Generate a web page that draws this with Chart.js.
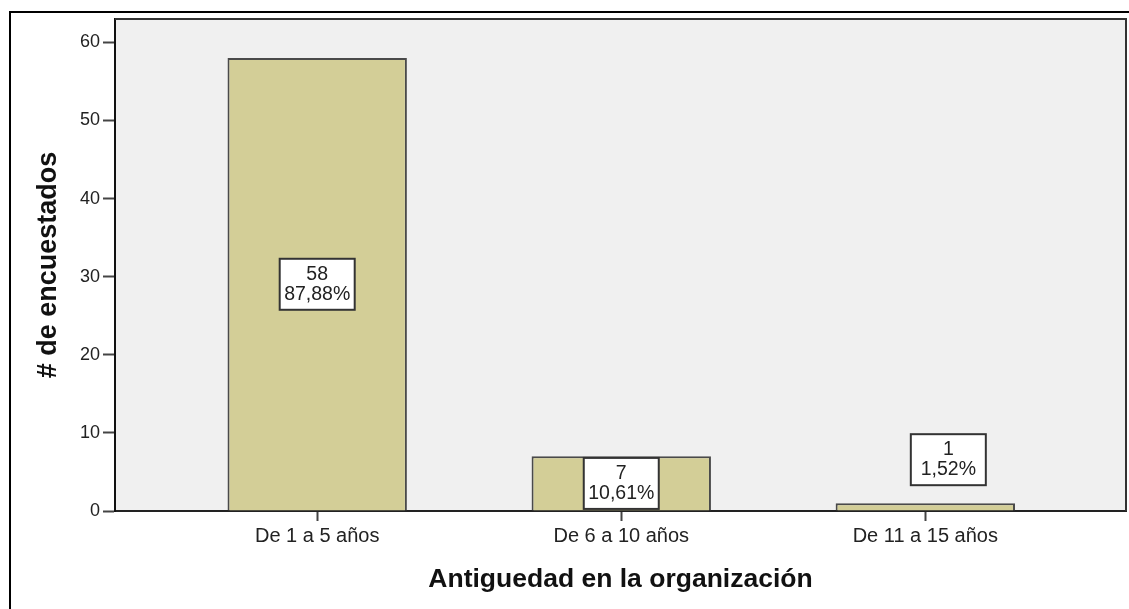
<!DOCTYPE html>
<html>
<head>
<meta charset="utf-8">
<script src="https://cdn.jsdelivr.net/npm/chart.js@4/dist/chart.umd.min.js"></script>
<style>
  html, body { margin: 0; padding: 0; background: #fff; }
  #wrap { width: 1129px; height: 609px; position: relative; }
</style>
</head>
<body>
<div id="wrap"><canvas id="myChart"></canvas></div>
<script>
// Antigüedad en la organización (n = 66)
const categories = ["De 1 a 5 años", "De 6 a 10 años", "De 11 a 15 años"];
const counts = [58, 7, 1];
const percents = ["87,88%", "10,61%", "1,52%"];
const yTicks = [0, 10, 20, 30, 40, 50, 60];

const FONT = "'Liberation Sans', Arial, sans-serif";

// fondo gris del área y marcos
const framePlugin = {
    id: 'frame',
    beforeDraw(chart) {
        const { ctx, chartArea: a } = chart;
        ctx.save();
        ctx.fillStyle = '#f0f0f0';
        ctx.fillRect(a.left, a.top, a.right - a.left, a.bottom - a.top);
        // marco exterior
        ctx.strokeStyle = '#000';
        ctx.lineWidth = 2;
        ctx.beginPath();
        ctx.moveTo(1129, 12);
        ctx.lineTo(10, 12);
        ctx.lineTo(10, 609);
        ctx.stroke();
        ctx.restore();
    },
    afterDraw(chart) {
        const { ctx, chartArea: a } = chart;
        ctx.save();
        ctx.strokeStyle = '#333';
        ctx.lineWidth = 2;
        ctx.beginPath();
        ctx.moveTo(a.left, a.top);
        ctx.lineTo(a.right, a.top);
        ctx.lineTo(a.right, a.bottom);
        ctx.stroke();
        ctx.restore();
    }
};

// etiquetas con recuento y porcentaje
const boxLabels = {
    id: 'boxLabels',
    afterDatasetsDraw(chart) {
        const { ctx } = chart;
        const meta = chart.getDatasetMeta(0);
        const w = 75, h = 51;
        ctx.save();
        meta.data.forEach((bar, i) => {
            let cx = bar.x, cy;
            const barH = bar.base - bar.y;
            if (barH >= h) {
                cy = (bar.y + bar.base) / 2;
            } else {
                cy = bar.y - 18 - h / 2;
                cx = bar.x + 23;
            }
            ctx.fillStyle = '#fff';
            ctx.fillRect(cx - w / 2, cy - h / 2, w, h);
            ctx.strokeStyle = '#333';
            ctx.lineWidth = 2;
            ctx.strokeRect(cx - w / 2, cy - h / 2, w, h);
            ctx.fillStyle = '#222';
            ctx.font = '19.5px ' + FONT;
            ctx.textAlign = 'center';
            ctx.textBaseline = 'middle';
            ctx.fillText(String(counts[i]), cx, cy - 10);
            ctx.fillText(percents[i], cx, cy + 10);
        });
        ctx.restore();
    }
};

const ctx = document.getElementById('myChart').getContext('2d');
new Chart(ctx, {
    type: 'bar',
    data: {
        datasets: [{
            data: counts.map((v, i) => ({ x: i, y: v })),
            backgroundColor: 'rgb(211,206,151)',
            borderColor: '#4a4a4a',
            borderWidth: 2,
            categoryPercentage: 1,
            barPercentage: 0.59
        }]
    },
    options: {
        responsive: true,
        maintainAspectRatio: false,
        animation: false,
        layout: { padding: { left: 10, right: 3, top: 19, bottom: 0 } },
        plugins: { legend: { display: false }, tooltip: { enabled: false } },
        scales: {
            x: {
                type: 'linear',
                offset: false,
                min: -0.665,
                max: 2.66,
                afterBuildTicks: s => { s.ticks = categories.map((c, i) => ({ value: i })); },
                afterFit: s => { s.height = 98; },
                ticks: {
                    callback: v => categories[v],
                    color: '#222',
                    font: { family: FONT, size: 20 },
                    padding: 3,
                    maxRotation: 0,
                    autoSkip: false
                },
                grid: { offset: false, drawOnChartArea: false, tickLength: 10, tickWidth: 2, tickColor: '#444' },
                border: { color: '#222', width: 2 },
                title: {
                    display: true,
                    text: 'Antiguedad en la organización',
                    color: '#111',
                    font: { family: FONT, size: 26.5, weight: 'bold' },
                    padding: { top: 0, bottom: 13 }
                }
            },
            y: {
                min: 0,
                max: 63,
                afterBuildTicks: s => { s.ticks = yTicks.map(v => ({ value: v })); },
                afterFit: s => { s.width = 105; },
                ticks: {
                    color: '#222',
                    font: { family: FONT, size: 18 },
                    padding: 3
                },
                grid: { drawOnChartArea: false, tickLength: 12, tickWidth: 2, tickColor: '#444' },
                border: { color: '#111', width: 2 },
                title: {
                    display: true,
                    text: '# de encuestados',
                    color: '#111',
                    font: { family: FONT, size: 27, weight: 'bold' },
                    padding: { top: 22, bottom: 0 }
                }
            }
        }
    },
    plugins: [framePlugin, boxLabels]
});
</script>
</body>
</html>
